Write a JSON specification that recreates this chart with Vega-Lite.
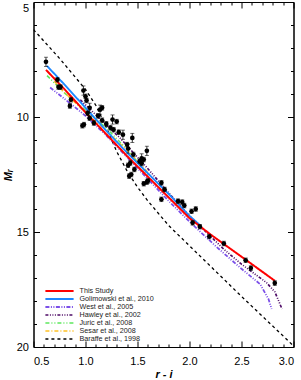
{
  "$schema": "https://vega.github.io/schema/vega-lite/v6.json",
  "width": 260,
  "height": 345,
  "autosize": {"type": "none"},
  "padding": {"left": 33.5, "top": 2, "right": 7.5, "bottom": 33},
  "background": "white",
  "config": {
    "view": {"stroke": "black", "strokeWidth": 1},
    "axis": {"grid": false, "domainColor": "black", "tickColor": "black", "labelColor": "black", "labelFont": "Liberation Sans", "labelFontSize": 11, "titleFont": "Liberation Sans", "titleColor": "black", "labelFontWeight": "normal"}
  },
  "datasets": {
    "pts": [
      {"x": 0.62, "M": 7.6, "e": 0.2},
      {"x": 0.73, "M": 8.38, "e": 0.1},
      {"x": 0.74, "M": 8.7, "e": 0.1},
      {"x": 0.76, "M": 8.7, "e": 0.1},
      {"x": 0.86, "M": 9.25, "e": 0.1},
      {"x": 0.85, "M": 9.52, "e": 0.1},
      {"x": 0.98, "M": 8.85, "e": 0.2},
      {"x": 1.0, "M": 9.1, "e": 0.1},
      {"x": 1.01, "M": 9.28, "e": 0.1},
      {"x": 1.04, "M": 9.6, "e": 0.2},
      {"x": 1.02, "M": 9.83, "e": 0.1},
      {"x": 0.97, "M": 10.38, "e": 0.1},
      {"x": 0.985, "M": 10.33, "e": 0.1},
      {"x": 1.04, "M": 10.05, "e": 0.1},
      {"x": 1.14, "M": 9.68, "e": 0.2},
      {"x": 1.16, "M": 9.6, "e": 0.1},
      {"x": 1.16, "M": 10.14, "e": 0.1},
      {"x": 1.12, "M": 9.95, "e": 0.1},
      {"x": 1.08, "M": 10.26, "e": 0.1},
      {"x": 1.26, "M": 10.11, "e": 0.2},
      {"x": 1.3, "M": 10.2, "e": 0.1},
      {"x": 1.2, "M": 10.3, "e": 0.1},
      {"x": 1.24, "M": 10.47, "e": 0.1},
      {"x": 1.27, "M": 10.55, "e": 0.1},
      {"x": 1.32, "M": 10.66, "e": 0.1},
      {"x": 1.36, "M": 10.77, "e": 0.2},
      {"x": 1.45, "M": 10.91, "e": 0.2},
      {"x": 1.4, "M": 11.2, "e": 0.1},
      {"x": 1.41, "M": 11.37, "e": 0.2},
      {"x": 1.46, "M": 11.63, "e": 0.1},
      {"x": 1.52, "M": 11.92, "e": 0.1},
      {"x": 1.54, "M": 11.8, "e": 0.2},
      {"x": 1.59, "M": 11.47, "e": 0.2},
      {"x": 1.56, "M": 11.85, "e": 0.1},
      {"x": 1.41, "M": 12.1, "e": 0.1},
      {"x": 1.43, "M": 12.0, "e": 0.1},
      {"x": 1.54, "M": 12.02, "e": 0.1},
      {"x": 1.47, "M": 12.28, "e": 0.1},
      {"x": 1.44, "M": 12.5, "e": 0.1},
      {"x": 1.42, "M": 12.57, "e": 0.1},
      {"x": 1.56, "M": 12.9, "e": 0.1},
      {"x": 1.59, "M": 12.83, "e": 0.1},
      {"x": 1.6, "M": 12.78, "e": 0.1},
      {"x": 1.73, "M": 12.86, "e": 0.1},
      {"x": 1.76, "M": 13.15, "e": 0.1},
      {"x": 1.73, "M": 13.58, "e": 0.1},
      {"x": 1.89, "M": 13.66, "e": 0.1},
      {"x": 1.93, "M": 13.7, "e": 0.1},
      {"x": 1.95, "M": 13.85, "e": 0.1},
      {"x": 2.02, "M": 14.1, "e": 0.1},
      {"x": 2.06, "M": 14.0, "e": 0.1},
      {"x": 2.03, "M": 14.6, "e": 0.1},
      {"x": 2.1, "M": 14.77, "e": 0.1},
      {"x": 2.19, "M": 15.2, "e": 0.1},
      {"x": 2.33, "M": 15.5, "e": 0.1},
      {"x": 2.54, "M": 16.23, "e": 0.1},
      {"x": 2.59, "M": 16.57, "e": 0.1},
      {"x": 2.82, "M": 17.22, "e": 0.1}
    ],
    "lines": [
      {"model": "Baraffe et al., 1998", "x": 0.5, "M": 6.2},
      {"model": "Baraffe et al., 1998", "x": 0.75, "M": 7.45},
      {"model": "Baraffe et al., 1998", "x": 1.0, "M": 8.8},
      {"model": "Baraffe et al., 1998", "x": 1.1, "M": 9.5},
      {"model": "Baraffe et al., 1998", "x": 1.2, "M": 10.45},
      {"model": "Baraffe et al., 1998", "x": 1.3, "M": 11.5},
      {"model": "Baraffe et al., 1998", "x": 1.4, "M": 12.35},
      {"model": "Baraffe et al., 1998", "x": 1.5, "M": 13.05},
      {"model": "Baraffe et al., 1998", "x": 1.6, "M": 13.65},
      {"model": "Baraffe et al., 1998", "x": 1.8, "M": 14.72},
      {"model": "Baraffe et al., 1998", "x": 2.0, "M": 15.6},
      {"model": "Baraffe et al., 1998", "x": 2.5, "M": 17.8},
      {"model": "Baraffe et al., 1998", "x": 3.0, "M": 19.95},
      {"model": "West et al., 2005", "x": 0.66, "M": 8.72},
      {"model": "West et al., 2005", "x": 0.8, "M": 9.22},
      {"model": "West et al., 2005", "x": 0.92, "M": 9.65},
      {"model": "West et al., 2005", "x": 1.0, "M": 9.95},
      {"model": "West et al., 2005", "x": 1.2, "M": 10.8},
      {"model": "West et al., 2005", "x": 1.4, "M": 11.75},
      {"model": "West et al., 2005", "x": 1.6, "M": 12.7},
      {"model": "West et al., 2005", "x": 1.8, "M": 13.65},
      {"model": "West et al., 2005", "x": 2.0, "M": 14.55},
      {"model": "West et al., 2005", "x": 2.26, "M": 15.65},
      {"model": "West et al., 2005", "x": 2.5, "M": 16.6},
      {"model": "West et al., 2005", "x": 2.68, "M": 17.27},
      {"model": "West et al., 2005", "x": 2.76, "M": 17.92},
      {"model": "West et al., 2005", "x": 2.79, "M": 18.35},
      {"model": "Hawley et al., 2002", "x": 0.95, "M": 9.25},
      {"model": "Hawley et al., 2002", "x": 1.2, "M": 10.35},
      {"model": "Hawley et al., 2002", "x": 1.33, "M": 10.9},
      {"model": "Hawley et al., 2002", "x": 1.6, "M": 12.25},
      {"model": "Hawley et al., 2002", "x": 1.8, "M": 13.3},
      {"model": "Hawley et al., 2002", "x": 2.0, "M": 14.3},
      {"model": "Hawley et al., 2002", "x": 2.33, "M": 15.75},
      {"model": "Hawley et al., 2002", "x": 2.5, "M": 16.4},
      {"model": "Hawley et al., 2002", "x": 2.74, "M": 17.2},
      {"model": "Hawley et al., 2002", "x": 2.82, "M": 17.6},
      {"model": "Hawley et al., 2002", "x": 2.89, "M": 18.35},
      {"model": "Juric et al., 2008", "x": 0.63, "M": 8.2},
      {"model": "Juric et al., 2008", "x": 0.8, "M": 8.96},
      {"model": "Juric et al., 2008", "x": 1.0, "M": 9.7},
      {"model": "Juric et al., 2008", "x": 1.2, "M": 10.48},
      {"model": "Juric et al., 2008", "x": 1.4, "M": 11.41},
      {"model": "Juric et al., 2008", "x": 1.6, "M": 12.5},
      {"model": "Sesar et al., 2008", "x": 0.7, "M": 8.45},
      {"model": "Sesar et al., 2008", "x": 0.8, "M": 8.95},
      {"model": "Sesar et al., 2008", "x": 1.0, "M": 9.8},
      {"model": "Sesar et al., 2008", "x": 1.2, "M": 10.6},
      {"model": "Sesar et al., 2008", "x": 1.4, "M": 11.45},
      {"model": "Sesar et al., 2008", "x": 1.6, "M": 12.4},
      {"model": "Golimowski et al., 2010", "x": 0.63, "M": 7.78},
      {"model": "Golimowski et al., 2010", "x": 0.8, "M": 8.6},
      {"model": "Golimowski et al., 2010", "x": 1.0, "M": 9.6},
      {"model": "Golimowski et al., 2010", "x": 1.2, "M": 10.6},
      {"model": "Golimowski et al., 2010", "x": 1.4, "M": 11.55},
      {"model": "Golimowski et al., 2010", "x": 1.6, "M": 12.45},
      {"model": "Golimowski et al., 2010", "x": 1.8, "M": 13.35},
      {"model": "Golimowski et al., 2010", "x": 2.0, "M": 14.3},
      {"model": "Golimowski et al., 2010", "x": 2.1, "M": 14.7},
      {"model": "This Study", "x": 0.62, "M": 7.95},
      {"model": "This Study", "x": 0.8, "M": 8.8},
      {"model": "This Study", "x": 1.0, "M": 9.8},
      {"model": "This Study", "x": 1.2, "M": 10.75},
      {"model": "This Study", "x": 1.4, "M": 11.7},
      {"model": "This Study", "x": 1.6, "M": 12.6},
      {"model": "This Study", "x": 1.8, "M": 13.5},
      {"model": "This Study", "x": 2.0, "M": 14.4},
      {"model": "This Study", "x": 2.2, "M": 15.1},
      {"model": "This Study", "x": 2.4, "M": 15.75},
      {"model": "This Study", "x": 2.6, "M": 16.4},
      {"model": "This Study", "x": 2.82, "M": 17.12}
    ]
  },
  "resolve": {"scale": {"x": "shared", "y": "shared"}, "axis": {"x": "independent", "y": "independent"}},
  "layer": [
    {
      "data": {"name": "lines"},
      "mark": {"type": "line", "clip": true},
      "encoding": {
        "x": {"field": "x", "type": "quantitative", "scale": {"domain": [0.5, 3.0], "nice": false, "zero": false},
          "axis": {"orient": "bottom", "values": [0.5, 1.0, 1.5, 2.0, 2.5, 3.0], "format": ".1f", "tickSize": -6, "labelPadding": 14, "title": "r - i", "titleFontStyle": "italic", "titleFontWeight": "bold", "titleFontSize": 11, "titlePadding": 2}},
        "y": {"field": "M", "type": "quantitative", "scale": {"domain": [5, 20], "reverse": true, "nice": false, "zero": false},
          "axis": {"orient": "left", "values": [5, 10, 15, 20], "tickSize": -6, "labelPadding": 11,
            "labelBaseline": {"condition": {"test": "datum.value == 5", "value": "top"}, "value": "middle"},
            "title": "Mᵣ", "titleFontStyle": "italic", "titleFontWeight": "bold", "titleFontSize": 11, "titlePadding": 3}},
        "color": {"field": "model", "type": "nominal",
          "scale": {"domain": ["This Study", "Golimowski et al., 2010", "West et al., 2005", "Hawley et al., 2002", "Juric et al., 2008", "Sesar et al., 2008", "Baraffe et al., 1998"],
            "range": ["#ff0000", "#1e88ff", "#7b4fe8", "#4d0a66", "#5de85d", "#ffc125", "#000000"]},
          "legend": {"orient": "none", "legendX": 22, "legendY": 285, "title": null, "symbolType": "M-4.7,0H4.7", "symbolSize": 36, "labelFontSize": 7.2, "labelFont": "Liberation Sans", "labelColor": "#222222", "rowPadding": -2, "labelOffset": 16, "padding": 0}},
        "strokeDash": {"field": "model", "type": "nominal",
          "scale": {"domain": ["This Study", "Golimowski et al., 2010", "West et al., 2005", "Hawley et al., 2002", "Juric et al., 2008", "Sesar et al., 2008", "Baraffe et al., 1998"],
            "range": [[1, 0], [1, 0], [4, 1.5, 1, 1.5, 1, 1.5], [3, 1.5, 1, 1.5, 1, 1.5, 1, 1.5], [4, 2, 1, 2, 1, 2], [4, 2, 1, 2], [3, 3]]},
          "legend": {"orient": "none", "legendX": 22, "legendY": 285, "title": null, "symbolType": "M-4.7,0H4.7", "symbolSize": 36, "labelFontSize": 7.2, "labelFont": "Liberation Sans", "labelColor": "#222222", "rowPadding": -2, "labelOffset": 16, "padding": 0}},
        "strokeWidth": {"field": "model", "type": "nominal",
          "scale": {"domain": ["This Study", "Golimowski et al., 2010", "West et al., 2005", "Hawley et al., 2002", "Juric et al., 2008", "Sesar et al., 2008", "Baraffe et al., 1998"],
            "range": [2, 1.3, 1.2, 1, 1.5, 1, 1]},
          "legend": {"orient": "none", "legendX": 22, "legendY": 285, "title": null, "symbolType": "M-4.7,0H4.7", "symbolSize": 36, "labelFontSize": 7.2, "labelFont": "Liberation Sans", "labelColor": "#222222", "rowPadding": -2, "labelOffset": 16, "padding": 0}}
      }
    },
    {
      "data": {"name": "pts"},
      "mark": {"type": "errorbar", "color": "black", "thickness": 0.8, "ticks": {"size": 4}},
      "encoding": {
        "x": {"field": "x", "type": "quantitative",
          "axis": {"orient": "bottom", "values": [0.6, 0.7, 0.8, 0.9, 1.1, 1.2, 1.3, 1.4, 1.6, 1.7, 1.8, 1.9, 2.1, 2.2, 2.3, 2.4, 2.6, 2.7, 2.8, 2.9], "tickSize": -3, "labels": false, "domain": false, "title": null}},
        "y": {"field": "M", "type": "quantitative",
          "axis": {"orient": "left", "values": [6, 7, 8, 9, 11, 12, 13, 14, 16, 17, 18, 19], "tickSize": -3, "labels": false, "domain": false, "title": null}},
        "yError": {"field": "e"}
      }
    },
    {
      "data": {"name": "pts"},
      "mark": {"type": "circle", "color": "black", "opacity": 1, "size": 22},
      "encoding": {
        "x": {"field": "x", "type": "quantitative",
          "axis": {"orient": "top", "values": [0.5, 1.0, 1.5, 2.0, 2.5, 3.0], "tickSize": -6, "labels": false, "title": null}},
        "y": {"field": "M", "type": "quantitative",
          "axis": {"orient": "right", "values": [5, 10, 15, 20], "tickSize": -6, "labels": false, "title": null}}
      }
    },
    {
      "data": {"name": "pts"},
      "mark": {"type": "circle", "opacity": 0, "size": 1},
      "encoding": {
        "x": {"field": "x", "type": "quantitative",
          "axis": {"orient": "top", "values": [0.6, 0.7, 0.8, 0.9, 1.1, 1.2, 1.3, 1.4, 1.6, 1.7, 1.8, 1.9, 2.1, 2.2, 2.3, 2.4, 2.6, 2.7, 2.8, 2.9], "tickSize": -3, "labels": false, "domain": false, "title": null}},
        "y": {"field": "M", "type": "quantitative",
          "axis": {"orient": "right", "values": [6, 7, 8, 9, 11, 12, 13, 14, 16, 17, 18, 19], "tickSize": -3, "labels": false, "domain": false, "title": null}}
      }
    }
  ]
}
